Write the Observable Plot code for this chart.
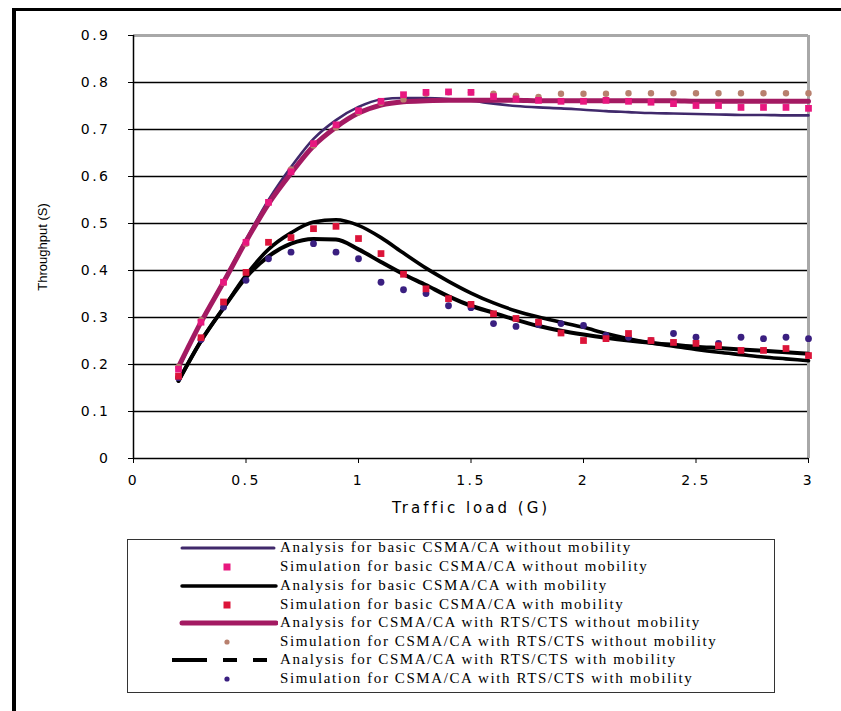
<!DOCTYPE html>
<html>
<head>
<meta charset="utf-8">
<script src="https://cdn.jsdelivr.net/npm/d3@7"></script>
<script src="https://cdn.jsdelivr.net/npm/@observablehq/plot@0.6"></script>
<style>
  html, body { margin: 0; padding: 0; background: #fff; overflow: hidden; }
  body { width: 841px; height: 711px; position: relative; }
  #frameTop { position: absolute; left: 12px; top: 8px; width: 829px; height: 3px; background: #000; }
  #frameLeft { position: absolute; left: 12px; top: 8px; width: 4px; height: 703px; background: #000; }
  #chart { position: absolute; left: 0; top: 0; }
  #chart g[aria-label="x-axis tick label"] text,
  #chart g[aria-label="y-axis tick label"] text { letter-spacing: 2.5px; }
  #legend { position: absolute; left: 127px; top: 539px; width: 648px; height: 154px;
            border: 1.5px solid #333; box-sizing: border-box; background: #fff; color: #000; }
  .row { position: absolute; left: 0; height: 18px; display: flex; align-items: center; }
  .row svg { display: block; }
  .row span { margin-left: 2px; white-space: nowrap;
              font-family: "Liberation Serif", "Times New Roman", serif; font-size: 15px; letter-spacing: 1.6px; }
</style>
</head>
<body>
<div id="frameTop"></div>
<div id="frameLeft"></div>
<div id="chart"></div>
<div id="legend"></div>
<script>
// ---- data ----
const loads = [0.2,0.3,0.4,0.5,0.6,0.7,0.8,0.9,1.0,1.1,1.2,1.3,1.4,1.5,1.6,1.7,1.8,1.9,2.0,2.1,2.2,2.3,2.4,2.5,2.6,2.7,2.8,2.9,3.0];

const anaBasicNoMob = [0.19,0.29,0.378,0.466,0.55,0.62,0.68,0.72,0.748,0.764,0.767,0.767,0.765,0.761,0.755,0.75,0.747,0.745,0.742,0.739,0.737,0.735,0.734,0.733,0.732,0.731,0.731,0.73,0.73];
const simBasicNoMob = [0.19,0.29,0.375,0.46,0.545,0.61,0.67,0.71,0.74,0.76,0.774,0.779,0.78,0.779,0.77,0.765,0.762,0.76,0.76,0.762,0.76,0.758,0.755,0.751,0.751,0.747,0.747,0.747,0.745];
const anaBasicMob = [0.165,0.25,0.32,0.39,0.445,0.48,0.503,0.508,0.496,0.47,0.437,0.405,0.377,0.352,0.331,0.314,0.301,0.29,0.279,0.266,0.255,0.246,0.239,0.232,0.226,0.221,0.216,0.212,0.208];
const simBasicMob = [0.175,0.257,0.333,0.396,0.46,0.47,0.489,0.494,0.468,0.436,0.392,0.361,0.34,0.328,0.308,0.298,0.29,0.267,0.251,0.255,0.266,0.251,0.247,0.245,0.24,0.23,0.23,0.234,0.219];
const anaRtsNoMob = [0.195,0.29,0.375,0.462,0.542,0.607,0.665,0.705,0.735,0.752,0.759,0.761,0.762,0.762,0.762,0.762,0.761,0.761,0.761,0.761,0.761,0.761,0.761,0.76,0.76,0.76,0.76,0.76,0.76];
const simRtsNoMob = [0.195,0.294,0.374,0.457,0.545,0.615,0.666,0.704,0.736,0.757,0.764,0.776,0.779,0.779,0.776,0.772,0.769,0.776,0.776,0.776,0.777,0.777,0.777,0.777,0.777,0.777,0.777,0.777,0.777];
const anaRtsMob = [0.165,0.25,0.32,0.385,0.43,0.457,0.467,0.466,0.445,0.418,0.392,0.369,0.345,0.325,0.31,0.295,0.282,0.272,0.264,0.257,0.251,0.246,0.242,0.238,0.235,0.232,0.229,0.226,0.223];
const simRtsMob = [0.172,0.253,0.322,0.379,0.425,0.439,0.457,0.439,0.425,0.375,0.359,0.351,0.325,0.321,0.287,0.281,0.285,0.287,0.283,0.262,0.258,0.251,0.266,0.258,0.245,0.258,0.255,0.258,0.255];

const xTicks = [0,0.5,1,1.5,2,2.5,3];
const yTicks = [0,0.1,0.2,0.3,0.4,0.5,0.6,0.7,0.8,0.9];
const gridTicks = [0.1,0.2,0.3,0.4,0.5,0.6,0.7,0.8];

const legendLabels = [
  "Analysis for basic CSMA/CA without mobility",
  "Simulation for basic CSMA/CA without mobility",
  "Analysis for basic CSMA/CA with mobility",
  "Simulation for basic CSMA/CA with mobility",
  "Analysis for CSMA/CA with RTS/CTS without mobility",
  "Simulation for CSMA/CA with RTS/CTS without mobility",
  "Analysis for CSMA/CA with RTS/CTS with mobility",
  "Simulation for CSMA/CA with RTS/CTS with mobility"
];

// ---- styles ----
const C = {
  purpleLine: "#40296b",
  pinkSq: "#e8177f",
  black: "#000000",
  redSq: "#dc1439",
  magenta: "#a31a62",
  tan: "#b8806e",
  purpleDot: "#3a1f80",
  frameGray: "#a8a8a8"
};

const X = (d) => d;
const Y = (arr) => (d, i) => arr[i];
const fmt = (d) => String(d);

const plot = Plot.plot({
  width: 841,
  height: 520,
  marginLeft: 133,
  marginRight: 33,
  marginTop: 35,
  marginBottom: 62,
  style: { background: "transparent", color: "#000", fontFamily: "'DejaVu Sans', sans-serif", fontSize: "14px" },
  x: { domain: [0, 3] },
  y: { domain: [0, 0.9] },
  marks: [
    Plot.ruleY(gridTicks, { stroke: "#000", strokeWidth: 1.5 }),
    Plot.ruleY([0.9], { stroke: C.frameGray, strokeWidth: 3 }),
    Plot.ruleX([3], { stroke: C.frameGray, strokeWidth: 3 }),
    Plot.axisY({ ticks: yTicks, tickFormat: fmt, tickSize: 5, tickPadding: 18, stroke: "#000",
                 label: "Throughput (S)", labelAnchor: "center", labelOffset: 96, labelArrow: "none" }),
    Plot.axisX({ ticks: xTicks, tickFormat: fmt, tickSize: 5, tickPadding: 12, stroke: "#000",
                 label: "Traffic load (G)", labelAnchor: "center", labelOffset: 54, labelArrow: "none" }),
    Plot.ruleY([0], { stroke: "#000", strokeWidth: 1.5 }),
    Plot.ruleX([0], { stroke: "#000", strokeWidth: 1.5 }),

    Plot.line(loads, { x: X, y: Y(anaBasicNoMob), stroke: C.purpleLine, strokeWidth: 2.6, curve: "monotone-x" }),
    Plot.line(loads, { x: X, y: Y(anaRtsNoMob), stroke: C.magenta, strokeWidth: 5, curve: "monotone-x" }),
    Plot.line(loads, { x: X, y: Y(anaBasicMob), stroke: C.black, strokeWidth: 3.6, curve: "monotone-x" }),
    Plot.line(loads, { x: X, y: Y(anaRtsMob), stroke: C.black, strokeWidth: 4, curve: "monotone-x" }),

    Plot.dot(loads, { x: X, y: Y(simRtsNoMob), fill: C.tan, r: 3.2 }),
    Plot.dot(loads, { x: X, y: Y(simBasicNoMob), fill: C.pinkSq, symbol: "square", r: 3.8 }),
    Plot.dot(loads, { x: X, y: Y(simRtsMob), fill: C.purpleDot, r: 3.4 }),
    Plot.dot(loads, { x: X, y: Y(simBasicMob), fill: C.redSq, symbol: "square", r: 3.8 })
  ]
});
document.getElementById("chart").appendChild(plot);
d3.select(plot).selectAll('g[aria-label="y-axis label"] text')
  .style("font-family", "'Liberation Sans', Arial, sans-serif").style("font-size", "13px");
d3.select(plot).selectAll('g[aria-label="x-axis label"] text')
  .style("font-family", "'DejaVu Sans', sans-serif").style("font-size", "15px").style("letter-spacing", "3px");

// ---- legend ----
const swatches = [
  { type: "line", color: C.purpleLine, w: 3, x1: 10, x2: 102 },
  { type: "square", color: C.pinkSq, s: 7 },
  { type: "line", color: C.black, w: 3.5, x1: 10, x2: 104 },
  { type: "square", color: C.redSq, s: 7 },
  { type: "line", color: C.magenta, w: 5, x1: 10, x2: 104 },
  { type: "dot", color: C.tan, r: 2.6 },
  { type: "dash", color: C.black, w: 4, x1: 0, x2: 96 },
  { type: "dot", color: C.purpleDot, r: 2.6 }
];
const legend = d3.select("#legend");
const rowCenters = [9, 28, 47, 66, 84, 103, 121, 140];
legendLabels.forEach((label, i) => {
  const row = legend.append("div").attr("class", "row")
    .style("top", (rowCenters[i] - 9 - 1.5) + "px").style("left", "44px");
  const svg = row.append("svg").attr("width", 106).attr("height", 18);
  const s = swatches[i];
  if (s.type === "line") {
    svg.append("line").attr("x1", s.x1).attr("x2", s.x2).attr("y1", 9).attr("y2", 9)
      .attr("stroke", s.color).attr("stroke-width", s.w).attr("stroke-linecap", "round");
  } else if (s.type === "dash") {
    svg.append("line").attr("x1", s.x1).attr("x2", s.x2).attr("y1", 9).attr("y2", 9)
      .attr("stroke", s.color).attr("stroke-width", s.w).attr("stroke-dasharray", "35,16,14,16,14");
  } else if (s.type === "square") {
    svg.append("rect").attr("x", 55 - s.s / 2).attr("y", 9 - s.s / 2).attr("width", s.s).attr("height", s.s).attr("fill", s.color);
  } else {
    svg.append("circle").attr("cx", 55).attr("cy", 9).attr("r", s.r).attr("fill", s.color);
  }
  row.append("span").text(label);
});
</script>
</body>
</html>
